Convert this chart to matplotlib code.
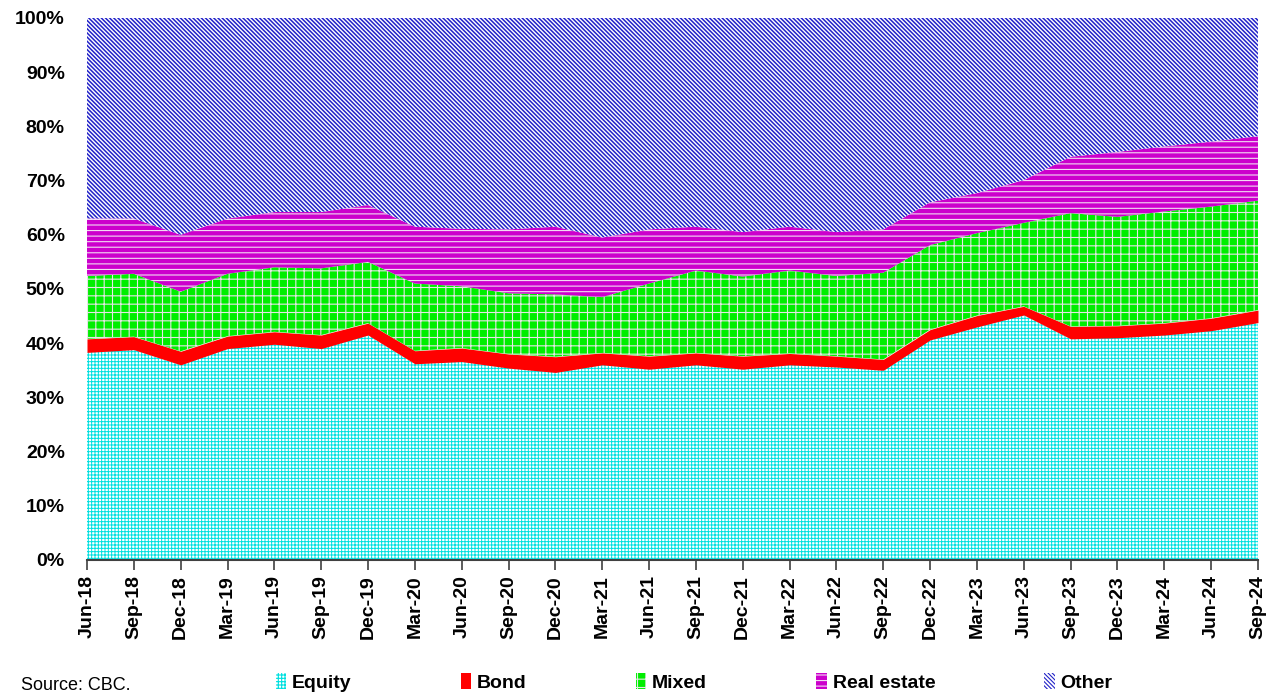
import matplotlib
matplotlib.use("Agg")
import matplotlib.pyplot as plt
from matplotlib.patches import Patch
import numpy as np

quarters = ["Jun-18", "Sep-18", "Dec-18", "Mar-19", "Jun-19", "Sep-19", "Dec-19",
            "Mar-20", "Jun-20", "Sep-20", "Dec-20", "Mar-21", "Jun-21", "Sep-21",
            "Dec-21", "Mar-22", "Jun-22", "Sep-22", "Dec-22", "Mar-23", "Jun-23",
            "Sep-23", "Dec-23", "Mar-24", "Jun-24", "Sep-24"]

# shares in percent (each series' own share)
equity = [38.3, 38.8, 36.0, 39.0, 39.8, 39.0, 41.5, 36.2, 36.6, 35.4, 34.6, 36.0, 35.2,
          36.0, 35.2, 36.0, 35.6, 35.0, 40.6, 43.0, 45.2, 40.8, 41.0, 41.5, 42.3, 43.8]
bond = [2.5, 2.4, 2.5, 2.3, 2.3, 2.5, 2.2, 2.4, 2.5, 2.6, 2.9, 2.2, 2.4,
        2.2, 2.4, 2.1, 2.0, 2.0, 1.9, 2.1, 1.6, 2.3, 2.2, 2.2, 2.3, 2.3]
mixed = [11.6, 11.6, 11.0, 11.5, 11.9, 12.3, 11.3, 12.4, 11.4, 11.2, 11.5, 10.3, 13.4,
         15.2, 14.7, 15.3, 14.8, 16.0, 15.6, 15.2, 15.4, 20.9, 20.1, 20.6, 20.6, 20.2]
real_estate = [10.6, 10.2, 10.5, 10.2, 10.2, 10.4, 10.5, 10.5, 10.6, 11.8, 12.5, 11.0, 10.0,
               8.1, 8.2, 8.1, 8.1, 8.0, 7.9, 7.4, 7.9, 10.4, 12.0, 12.0, 12.0, 11.9]
other = [100 - a - b - c - d for a, b, c, d in zip(equity, bond, mixed, real_estate)]

labels = ["Equity", "Bond", "Mixed", "Real estate", "Other"]

plt.rcParams['font.family'] = ['Liberation Sans', 'DejaVu Sans']
plt.rcParams['hatch.linewidth'] = 0.8

fig = plt.figure(figsize=(12.83, 6.97), dpi=100)
ax = fig.add_axes([0.0678, 0.1966, 0.9127, 0.7776])

x = np.arange(len(quarters))
series = [np.array(equity), np.array(bond), np.array(mixed),
          np.array(real_estate), np.array(other)]
styles = [
    dict(facecolor="white", edgecolor="#00E0E0", hatch="+++++", hlw=0.7),
    dict(facecolor="#FF0000", edgecolor="#FF0000", hatch=None, hlw=0.7),
    dict(facecolor="#00EE00", edgecolor="#E6E6E6", hatch="++", hlw=0.8),
    dict(facecolor="#CC00CC", edgecolor="#F2DCF2", hatch="---", hlw=0.8),
    dict(facecolor="white", edgecolor="#2222C8", hatch="\\" * 8, hlw=1.1),
]

bottom = np.zeros(len(x))
for vals, st in zip(series, styles):
    top = bottom + vals / 100.0
    coll = ax.fill_between(x, bottom, top, facecolor=st["facecolor"], edgecolor=st["edgecolor"],
                           hatch=st["hatch"], linewidth=0)
    if hasattr(coll, "set_hatch_linewidth"):
        coll.set_hatch_linewidth(st["hlw"])
    bottom = top

ax.set_xlim(0, len(x) - 1)
ax.set_ylim(0, 1)
ticks = np.arange(0, 1.01, 0.1)
ax.set_yticks(ticks)
ax.set_yticklabels([f"{int(round(v*100))}%" for v in ticks], fontsize=14, fontweight="bold")
ax.tick_params(axis="y", length=0, pad=16)
ax.set_xticks(x)
ax.set_xticklabels(quarters, rotation=90, fontsize=14, fontweight="bold")
ax.tick_params(axis="x", length=7, width=1.2, color="#404040", pad=4)
for s in ["top", "right", "left"]:
    ax.spines[s].set_visible(False)
ax.spines["bottom"].set_color("#404040")
ax.spines["bottom"].set_linewidth(1.5)

handles = []
for st in styles:
    p = Patch(facecolor=st["facecolor"], edgecolor=st["edgecolor"], hatch=st["hatch"], linewidth=0)
    handles.append(p)
leg = fig.legend(handles, labels, loc="center", bbox_to_anchor=(0.541, 0.021), ncol=5,
                 frameon=False, prop=dict(weight="bold", size=14),
                 handlelength=0.55, handleheight=0.9, handletextpad=0.3, columnspacing=5.6)

fig.text(0.016, 0.004, "Source: CBC.", fontsize=13, ha="left", va="bottom")

fig.savefig("out.png", dpi=100)
